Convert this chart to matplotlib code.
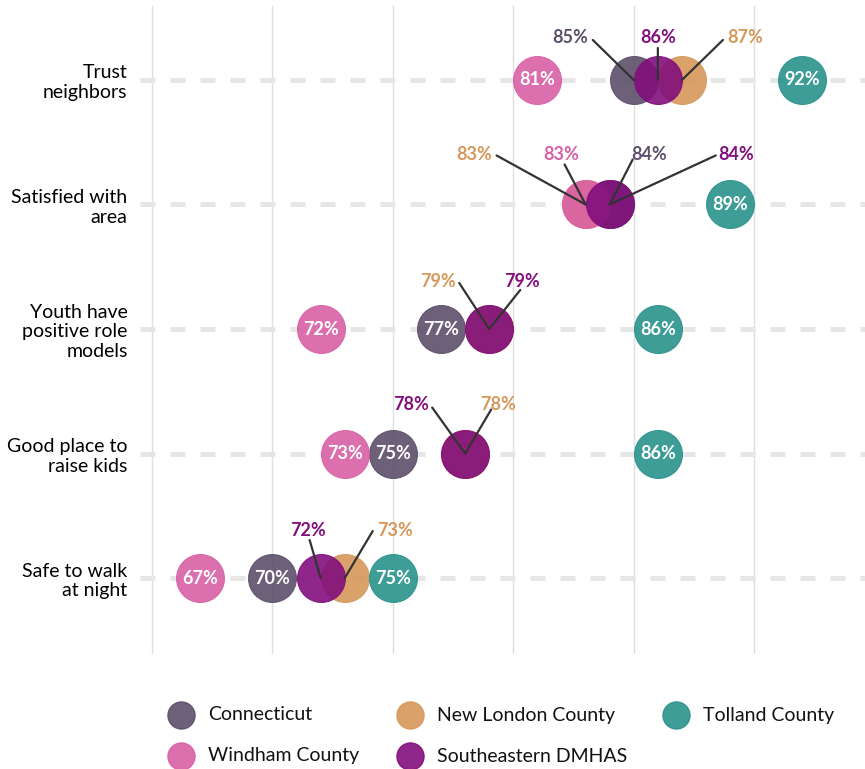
import matplotlib.pyplot as plt
from matplotlib.lines import Line2D

plt.rcParams["font.family"] = ["Lato", "DejaVu Sans"]

categories = ["Trust\nneighbors", "Satisfied with\narea", "Youth have\npositive role\nmodels",
              "Good place to\nraise kids", "Safe to walk\nat night"]

# draw order: later series sit on top
series = ["Connecticut", "New London County", "Tolland County", "Windham County", "Southeastern DMHAS"]
connecticut = [85, 84, 77, 75, 70]
new_london = [87, 83, 79, 78, 73]
tolland = [92, 89, 86, 86, 75]
windham = [81, 83, 72, 73, 67]
southeastern = [86, 84, 79, 78, 72]
values = [connecticut, new_london, tolland, windham, southeastern]

COLORS = {
    "Connecticut": "#5d4f6b",
    "New London County": "#d6985a",
    "Tolland County": "#2a938c",
    "Windham County": "#d960a6",
    "Southeastern DMHAS": "#820f7c",
}

# repelled labels: (series, row) -> (text offset px, line start offset px)
LEADERS = {
    ("Connecticut", 0): ((-64, 42), (-41, 40)),
    ("Southeastern DMHAS", 0): ((0, 42), (0, 32)),
    ("New London County", 0): ((63, 42), (41, 40)),
    ("New London County", 1): ((-111, 50), (-89, 49)),
    ("Windham County", 1): ((-24, 50), (-21, 40)),
    ("Connecticut", 1): ((39, 50), (23, 45)),
    ("Southeastern DMHAS", 1): ((126, 50), (106, 49)),
    ("New London County", 2): ((-51, 48), (-30, 46)),
    ("Southeastern DMHAS", 2): ((33, 48), (31, 39)),
    ("Southeastern DMHAS", 3): ((-54, 49), (-33, 46)),
    ("New London County", 3): ((33, 49), (26, 44)),
    ("Southeastern DMHAS", 4): ((-13, 48), (-11, 38)),
    ("New London County", 4): ((50, 48), (28, 47)),
}

fig = plt.figure(figsize=(8.65, 7.69), dpi=100)
ax = fig.add_axes([140 / 865, 1 - 654 / 769, 1 - 140 / 865, 648 / 769])

rows = list(range(len(categories)))

for x in [65, 70, 75, 80, 85, 90]:
    ax.axvline(x, color="#dedede", lw=1.0, zorder=0)
for r in rows:
    ax.axhline(r, color="#e6e6e6", lw=3.6, dashes=(3, 3), dash_capstyle="butt", zorder=0)

for name, vals in zip(series, values):
    col = COLORS[name]
    ax.plot(vals, rows, "o", ms=34.5, color=col, alpha=0.9, mec=col, mew=0.8, ls="none", zorder=2)

for name, vals in zip(series, values):
    col = COLORS[name]
    for r, v in zip(rows, vals):
        lab = f"{v}%"
        if (name, r) in LEADERS:
            (tx, ty), (lx, ly) = LEADERS[(name, r)]
            ax.annotate("", xy=(v, r), xytext=(lx, ly), textcoords="offset pixels",
                        arrowprops=dict(arrowstyle="-", color="#333333", lw=1.6,
                                        shrinkA=0, shrinkB=0), zorder=4)
            ax.annotate(lab, xy=(v, r), xytext=(tx, ty), textcoords="offset pixels",
                        ha="center", va="center", fontsize=13, fontweight="bold",
                        color=col, zorder=5)
        else:
            ax.text(v, r, lab, ha="center", va="center", fontsize=13,
                    fontweight="bold", color="white", zorder=5)

ax.set_yticks(rows)
ax.set_yticklabels(categories, fontsize=14, linespacing=1.18, ha="right")
ax.set_xticks([])
ax.set_xlim(64.5, 94.6)
ax.set_ylim(4.61, -0.594)
ax.tick_params(axis="y", length=0, pad=9)
for s in ax.spines.values():
    s.set_visible(False)

# legend, three columns
leg_x = [181, 410, 676]
leg_y = [715, 756]
for i, name in enumerate(series):
    cx = leg_x[i % 3]
    cy = leg_y[i // 3]
    fig.add_artist(Line2D([cx / 865], [1 - cy / 769], marker="o", ms=19.5, color=COLORS[name],
                          alpha=0.9, ls="none", transform=fig.transFigure))
    fig.text((cx + 27) / 865, 1 - cy / 769, name, fontsize=14, va="center", ha="left",
             color="#111111")

fig.savefig("out.png", dpi=100)
